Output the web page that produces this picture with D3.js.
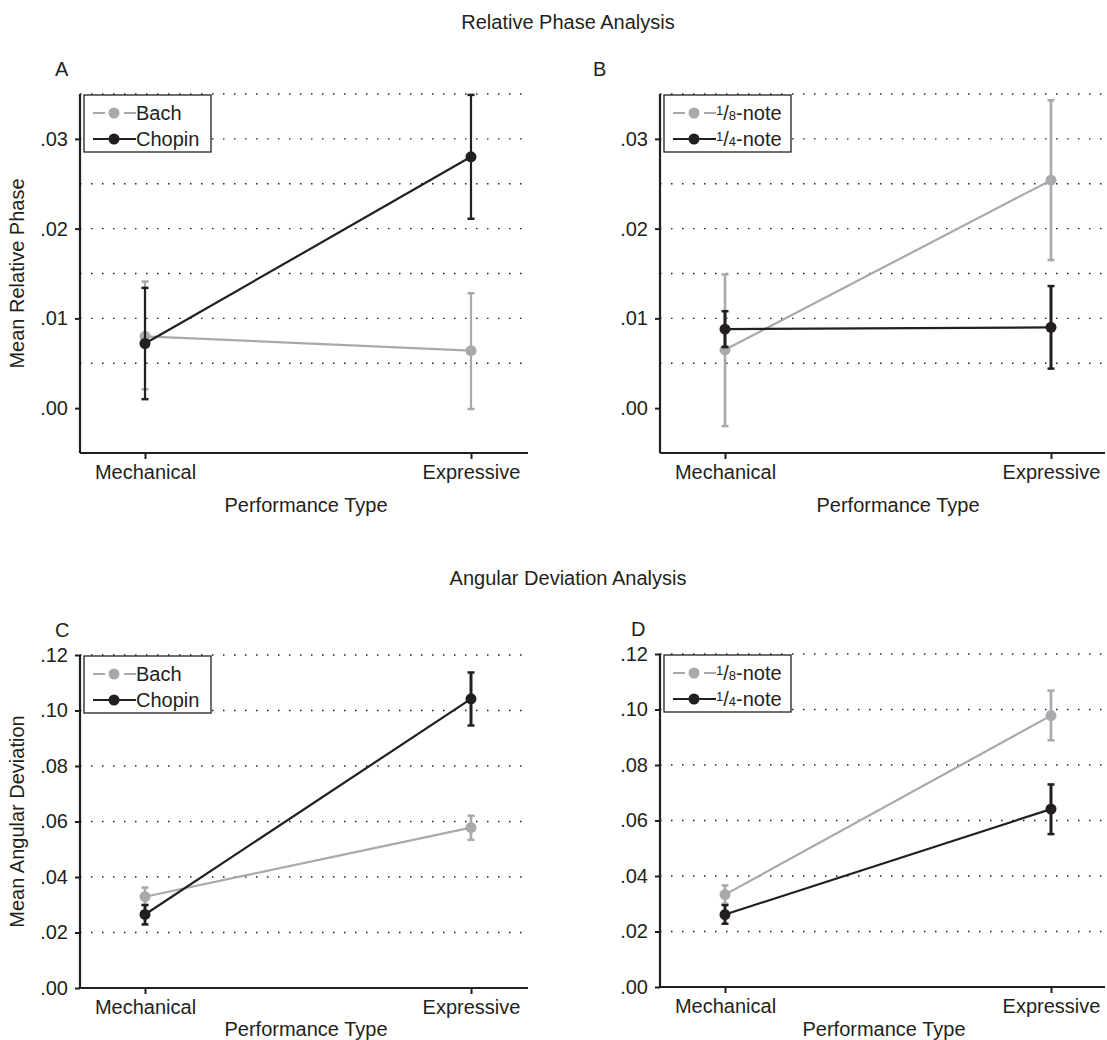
<!DOCTYPE html>
<html>
<head>
<meta charset="utf-8">
<script src="https://cdn.jsdelivr.net/npm/d3@7"></script>
<style>
  body { margin: 0; background: #fff; }
  text { font-family: "Liberation Sans", Arial, sans-serif; fill: #231f20; }
</style>
</head>
<body>
<div id="chart"></div>
<script>
// categories on the x axis
var categories = ["Mechanical", "Expressive"];

// A: relative phase by composer
var phaseBachMean = [0.0080, 0.0064];
var phaseBachLow = [0.0021, -0.0001];
var phaseBachHigh = [0.0141, 0.0128];
var phaseChopinMean = [0.0072, 0.0280];
var phaseChopinLow = [0.0010, 0.0211];
var phaseChopinHigh = [0.0134, 0.0349];

// B: relative phase by note value
var phaseEighthMean = [0.0065, 0.0254];
var phaseEighthLow = [-0.0020, 0.0165];
var phaseEighthHigh = [0.0149, 0.0343];
var phaseQuarterMean = [0.0088, 0.0090];
var phaseQuarterLow = [0.0068, 0.0044];
var phaseQuarterHigh = [0.0108, 0.0136];

// C: angular deviation by composer
var angBachMean = [0.0329, 0.0578];
var angBachLow = [0.0299, 0.0534];
var angBachHigh = [0.0362, 0.0621];
var angChopinMean = [0.0265, 0.1042];
var angChopinLow = [0.0229, 0.0946];
var angChopinHigh = [0.0299, 0.1137];

// D: angular deviation by note value
var angEighthMean = [0.0333, 0.0978];
var angEighthLow = [0.0300, 0.0889];
var angEighthHigh = [0.0366, 0.1068];
var angQuarterMean = [0.0261, 0.0641];
var angQuarterLow = [0.0228, 0.0551];
var angQuarterHigh = [0.0295, 0.0730];

// tick labels
var phaseTicks = [0, 0.01, 0.02, 0.03];
var phaseGrid = [0.005, 0.01, 0.015, 0.02, 0.025, 0.03, 0.035];
var angTicks = [0, 0.02, 0.04, 0.06, 0.08, 0.10, 0.12];
var angGrid = [0.02, 0.04, 0.06, 0.08, 0.10, 0.12];

var GRAY = "#a7a9ac", BLACK = "#231f20";
var fs = 20;

var svg = d3.select("#chart").append("svg")
    .attr("width", 1107)
    .attr("height", 1040);

function fmt(v) { return d3.format(".2f")(v).replace(/^0/, ""); }

function series(mean, low, high) {
    return categories.map(function (c, i) { return { cat: c, mean: mean[i], low: low[i], high: high[i] }; });
}

function panel(opt) {
    var g = svg.append("g");
    var y = d3.scaleLinear().domain(opt.yDomain).range([opt.bottom, opt.top]);
    var x = d3.scalePoint().domain(categories).range([opt.left + 65, opt.left + 391]);

    // dotted grid
    g.selectAll(".grid").data(opt.grid).enter().append("line")
        .attr("x1", opt.left).attr("x2", opt.gridEnd)
        .attr("y1", function (d) { return y(d); })
        .attr("y2", function (d) { return y(d); })
        .attr("stroke", BLACK).attr("stroke-width", 1.3)
        .attr("stroke-dasharray", "1.5,9.5");

    // axes
    var ya = g.append("g").attr("transform", "translate(" + opt.left + ",0)")
        .call(d3.axisLeft(y).tickValues(opt.ticks).tickFormat(fmt).tickSize(5).tickPadding(7));
    ya.select(".domain").attr("d", "M0," + opt.bottom + "V" + opt.top);
    var xa = g.append("g").attr("transform", "translate(0," + opt.bottom + ")")
        .call(d3.axisBottom(x).tickSize(6).tickPadding(6));
    xa.select(".domain").attr("d", "M" + opt.left + ",0H" + opt.right);
    g.selectAll(".domain").attr("stroke", BLACK).attr("stroke-width", 2.2);
    g.selectAll(".tick line").attr("stroke", BLACK).attr("stroke-width", 2);
    g.selectAll(".tick text").attr("font-size", fs).attr("fill", BLACK)
        .style("font-family", "'Liberation Sans', Arial, sans-serif");

    // series: gray first, black on top
    opt.series.forEach(function (s) {
        var data = series(s.mean, s.low, s.high);
        g.append("path").datum(data)
            .attr("fill", "none").attr("stroke", s.color).attr("stroke-width", 2.2)
            .attr("d", d3.line().x(function (d) { return x(d.cat); }).y(function (d) { return y(d.mean); }));
        var eb = g.selectAll(null).data(data).enter().append("g");
        eb.append("line")
            .attr("x1", function (d) { return x(d.cat); }).attr("x2", function (d) { return x(d.cat); })
            .attr("y1", function (d) { return y(d.low); }).attr("y2", function (d) { return y(d.high); })
            .attr("stroke", s.color).attr("stroke-width", s.ebw);
        ["low", "high"].forEach(function (k) {
            eb.append("line")
                .attr("x1", function (d) { return x(d.cat) - 3.5; }).attr("x2", function (d) { return x(d.cat) + 3.5; })
                .attr("y1", function (d) { return y(d[k]); }).attr("y2", function (d) { return y(d[k]); })
                .attr("stroke", s.color).attr("stroke-width", 2.5);
        });
        eb.append("circle")
            .attr("cx", function (d) { return x(d.cat); }).attr("cy", function (d) { return y(d.mean); })
            .attr("r", 5.5).attr("fill", s.color);
    });

    // legend
    var lg = g.append("g").attr("transform", "translate(" + (opt.left + 4) + "," + (opt.top + 1) + ")");
    lg.append("rect").attr("width", 127).attr("height", 57)
        .attr("fill", "#fff").attr("stroke", BLACK).attr("stroke-width", 1.3);
    opt.series.forEach(function (s, i) {
        var cy = 18 + i * 26;
        lg.append("line").attr("x1", 9).attr("x2", 52).attr("y1", cy).attr("y2", cy)
            .attr("stroke", s.color).attr("stroke-width", 2.2)
            .attr("stroke-dasharray", s.color === GRAY ? "12,6,7,6,12" : null);
        lg.append("circle").attr("cx", 30).attr("cy", cy).attr("r", 5.5).attr("fill", s.color);
        var t = lg.append("text").attr("x", 52).attr("y", cy + 7).attr("font-size", fs);
        if (s.frac) {
            t.append("tspan").attr("font-size", 13).attr("dy", -5).text(s.frac[0]);
            t.append("tspan").attr("dy", 5).text("/");
            t.append("tspan").attr("font-size", 13).text(s.frac[1]);
            t.append("tspan").text("-note");
        } else {
            t.text(s.name);
        }
    });

    // panel letter and axis titles
    g.append("text").attr("x", opt.letterX).attr("y", opt.top - 18).attr("font-size", fs).text(opt.letter);
    g.append("text").attr("x", opt.xTitleX).attr("y", opt.xTitleY).attr("text-anchor", "middle")
        .attr("font-size", fs).text("Performance Type");
    if (opt.yTitle) {
        g.append("text").attr("transform", "translate(24," + ((opt.top + opt.bottom) / 2) + ") rotate(-90)")
            .attr("text-anchor", "middle").attr("font-size", fs).text(opt.yTitle);
    }
}

svg.append("text").attr("x", 568).attr("y", 29).attr("text-anchor", "middle").attr("font-size", fs)
    .text("Relative Phase Analysis");
svg.append("text").attr("x", 568).attr("y", 585).attr("text-anchor", "middle").attr("font-size", fs)
    .text("Angular Deviation Analysis");

panel({
    letter: "A", letterX: 55, left: 80, right: 528, gridEnd: 522, top: 94, bottom: 453,
    yDomain: [-0.005, 0.035], ticks: phaseTicks, grid: phaseGrid,
    xTitleX: 306, xTitleY: 512, yTitle: "Mean Relative Phase",
    series: [
        { name: "Bach", color: GRAY, ebw: 2.2, mean: phaseBachMean, low: phaseBachLow, high: phaseBachHigh },
        { name: "Chopin", color: BLACK, ebw: 2.2, mean: phaseChopinMean, low: phaseChopinLow, high: phaseChopinHigh }
    ]
});
panel({
    letter: "B", letterX: 593, left: 660, right: 1105, gridEnd: 1105, top: 94, bottom: 453,
    yDomain: [-0.005, 0.035], ticks: phaseTicks, grid: phaseGrid,
    xTitleX: 898, xTitleY: 512,
    series: [
        { frac: ["1", "8"], color: GRAY, ebw: 2.6, mean: phaseEighthMean, low: phaseEighthLow, high: phaseEighthHigh },
        { frac: ["1", "4"], color: BLACK, ebw: 3, mean: phaseQuarterMean, low: phaseQuarterLow, high: phaseQuarterHigh }
    ]
});
panel({
    letter: "C", letterX: 55, left: 80, right: 528, gridEnd: 522, top: 655, bottom: 988,
    yDomain: [0, 0.12], ticks: angTicks, grid: angGrid,
    xTitleX: 306, xTitleY: 1036, yTitle: "Mean Angular Deviation",
    series: [
        { name: "Bach", color: GRAY, ebw: 2.6, mean: angBachMean, low: angBachLow, high: angBachHigh },
        { name: "Chopin", color: BLACK, ebw: 3, mean: angChopinMean, low: angChopinLow, high: angChopinHigh }
    ]
});
panel({
    letter: "D", letterX: 631, left: 660, right: 1105, gridEnd: 1105, top: 654, bottom: 987,
    yDomain: [0, 0.12], ticks: angTicks, grid: angGrid,
    xTitleX: 884, xTitleY: 1036,
    series: [
        { frac: ["1", "8"], color: GRAY, ebw: 2.6, mean: angEighthMean, low: angEighthLow, high: angEighthHigh },
        { frac: ["1", "4"], color: BLACK, ebw: 3, mean: angQuarterMean, low: angQuarterLow, high: angQuarterHigh }
    ]
});
</script>
</body>
</html>
